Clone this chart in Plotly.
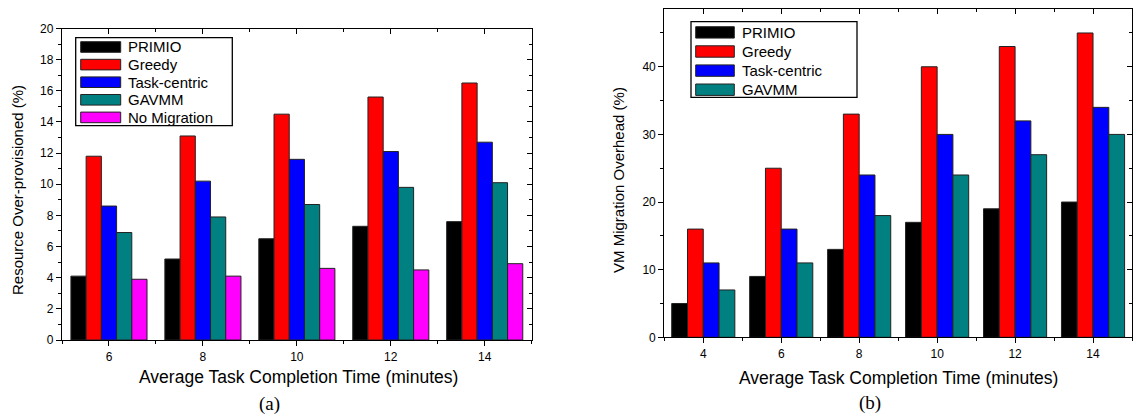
import plotly.graph_objects as go

# ---- data ----
series_a = ["PRIMIO", "Greedy", "Task-centric", "GAVMM", "No Migration"]
series_b = ["PRIMIO", "Greedy", "Task-centric", "GAVMM"]
colors = ["#000000", "#FF0000", "#0000FF", "#008080", "#FF00FF"]

time_a = [6, 8, 10, 12, 14]
primio_a = [4.1, 5.2, 6.5, 7.3, 7.6]
greedy_a = [11.8, 13.1, 14.5, 15.6, 16.5]
task_a = [8.6, 10.2, 11.6, 12.1, 12.7]
gavmm_a = [6.9, 7.9, 8.7, 9.8, 10.1]
nomig_a = [3.9, 4.1, 4.6, 4.5, 4.9]

time_b = [4, 6, 8, 10, 12, 14]
primio_b = [5, 9, 13, 17, 19, 20]
greedy_b = [16, 25, 33, 40, 43, 45]
task_b = [11, 16, 24, 30, 32, 34]
gavmm_b = [7, 11, 18, 24, 27, 30]

values_a = [primio_a, greedy_a, task_a, gavmm_a, nomig_a]
values_b = [primio_b, greedy_b, task_b, gavmm_b]

W, H = 1133, 417
SANS = "Liberation Sans, Arial, sans-serif"
SERIF = "Liberation Serif, Times New Roman, serif"


def px_x(p):
    return p / W


def px_y(p):
    return 1 - p / H


fig = go.Figure()

for name, vals, col in zip(series_a, values_a, colors):
    fig.add_trace(go.Bar(x=time_a, y=vals, name=name, xaxis="x", yaxis="y",
                         marker=dict(color=col, line=dict(color="#222222", width=1)),
                         showlegend=False))
for name, vals, col in zip(series_b, values_b, colors):
    fig.add_trace(go.Bar(x=time_b, y=vals, name=name, xaxis="x2", yaxis="y2",
                         marker=dict(color=col, line=dict(color="#222222", width=1)),
                         showlegend=False))

# empty traces that carry the inward-ticked top/right frame axes
fig.add_trace(go.Scatter(x=[], y=[], xaxis="x3", yaxis="y3", showlegend=False))
fig.add_trace(go.Scatter(x=[], y=[], xaxis="x4", yaxis="y4", showlegend=False))

dom_xa = [px_x(62), px_x(531.7)]
dom_ya = [px_y(340), px_y(28.5)]
dom_xb = [px_x(664.3), px_x(1132)]
dom_yb = [px_y(337.3), px_y(9.3)]

rng_xa = [5, 15]
rng_ya = [0, 20]
rng_xb = [3, 15]
rng_yb = [0, 48.5]

tickfont = dict(family=SANS, size=12, color="#000")
axis_common = dict(showgrid=False, zeroline=False, showline=True, linecolor="#000",
                   linewidth=1.3, ticks="outside", ticklen=5, tickwidth=1,
                   tickcolor="#000", tickfont=tickfont, automargin=False)
minor_common = dict(ticks="outside", ticklen=3, tickwidth=1, tickcolor="#000", showgrid=False)
frame_common = dict(showgrid=False, zeroline=False, showline=True, linecolor="#000",
                    linewidth=1.3, ticks="inside", ticklen=5, tickwidth=1,
                    tickcolor="#000", showticklabels=False, automargin=False)
minor_in = dict(ticks="inside", ticklen=3, tickwidth=1, tickcolor="#000", showgrid=False)

fig.update_layout(
    width=W, height=H,
    margin=dict(l=0, r=0, t=0, b=0),
    paper_bgcolor="white", plot_bgcolor="white",
    barmode="group", bargap=0.19, bargroupgap=0,
    xaxis=dict(domain=dom_xa, anchor="y", range=rng_xa, tick0=6, dtick=2,
               minor=dict(dtick=1, tick0=5, **minor_common), **axis_common),
    yaxis=dict(domain=dom_ya, anchor="x", range=rng_ya, tick0=0, dtick=2,
               minor=dict(dtick=1, tick0=0, **minor_common), **axis_common),
    xaxis2=dict(domain=dom_xb, anchor="y2", range=rng_xb, tick0=4, dtick=2,
                minor=dict(dtick=1, tick0=3, **minor_common), **axis_common),
    yaxis2=dict(domain=dom_yb, anchor="x2", range=rng_yb, tick0=0, dtick=10,
                minor=dict(dtick=5, tick0=0, **minor_common), **axis_common),
    xaxis3=dict(overlaying="x", anchor="y3", side="top", range=rng_xa, tick0=6, dtick=2,
                minor=dict(dtick=1, tick0=5, **minor_in), **frame_common),
    yaxis3=dict(overlaying="y", anchor="x3", side="right", range=rng_ya, tick0=0, dtick=2,
                minor=dict(dtick=1, tick0=0, **minor_in), **frame_common),
    xaxis4=dict(overlaying="x2", anchor="y4", side="top", range=rng_xb, tick0=4, dtick=2,
                minor=dict(dtick=1, tick0=3, **minor_in), **frame_common),
    yaxis4=dict(overlaying="y2", anchor="x4", side="right", range=rng_yb, tick0=0, dtick=10,
                minor=dict(dtick=5, tick0=0, **minor_in), **frame_common),
)

xtitle_font = dict(family=SANS, size=17.5, color="#000")
ytitle_font = dict(family=SANS, size=15, color="#000")
annotations = [
    dict(text="Average Task Completion Time (minutes)", x=px_x(298), y=px_y(377),
         font=xtitle_font),
    dict(text="Average Task Completion Time (minutes)", x=px_x(898), y=px_y(378),
         font=xtitle_font),
    dict(text="Resource Over-provisioned (%)", x=px_x(17), y=px_y(190),
         font=ytitle_font, textangle=-90),
    dict(text="VM Migration Overhead (%)", x=px_x(618), y=px_y(180),
         font=ytitle_font, textangle=-90),
    dict(text="(a)", x=px_x(269), y=px_y(404), font=dict(family=SERIF, size=19, color="#000")),
    dict(text="(b)", x=px_x(870), y=px_y(403), font=dict(family=SERIF, size=19, color="#000")),
]
for a in annotations:
    a.update(xref="paper", yref="paper", showarrow=False, xanchor="center", yanchor="middle")

shapes = []


def add_legend(names, box, sw_x, row0, sw_h, step, text_x):
    shapes.append(dict(type="rect", xref="paper", yref="paper",
                       x0=px_x(box[0]), x1=px_x(box[1]), y0=px_y(box[3]), y1=px_y(box[2]),
                       line=dict(color="#000", width=1.3), fillcolor="white", layer="above"))
    for i, (nm, col) in enumerate(zip(names, colors)):
        top = row0 + i * step
        shapes.append(dict(type="rect", xref="paper", yref="paper",
                           x0=px_x(sw_x[0]), x1=px_x(sw_x[1]),
                           y0=px_y(top + sw_h), y1=px_y(top),
                           line=dict(color="#222", width=1), fillcolor=col, layer="above"))
        annotations.append(dict(text=nm, xref="paper", yref="paper", showarrow=False,
                                x=px_x(text_x), y=px_y(top + sw_h / 2),
                                xanchor="left", yanchor="middle",
                                font=dict(family=SANS, size=15, color="#000")))


add_legend(series_a, (75.7, 232.3, 37.7, 125.7), (80.7, 120.7), 41.7, 10.6, 17.6, 125.7)
add_legend(series_b, (691, 857, 21.7, 97.3), (695.7, 734.3), 26.7, 11.4, 19.1, 740)

fig.update_layout(shapes=shapes, annotations=annotations)

fig.write_html("out.html")
